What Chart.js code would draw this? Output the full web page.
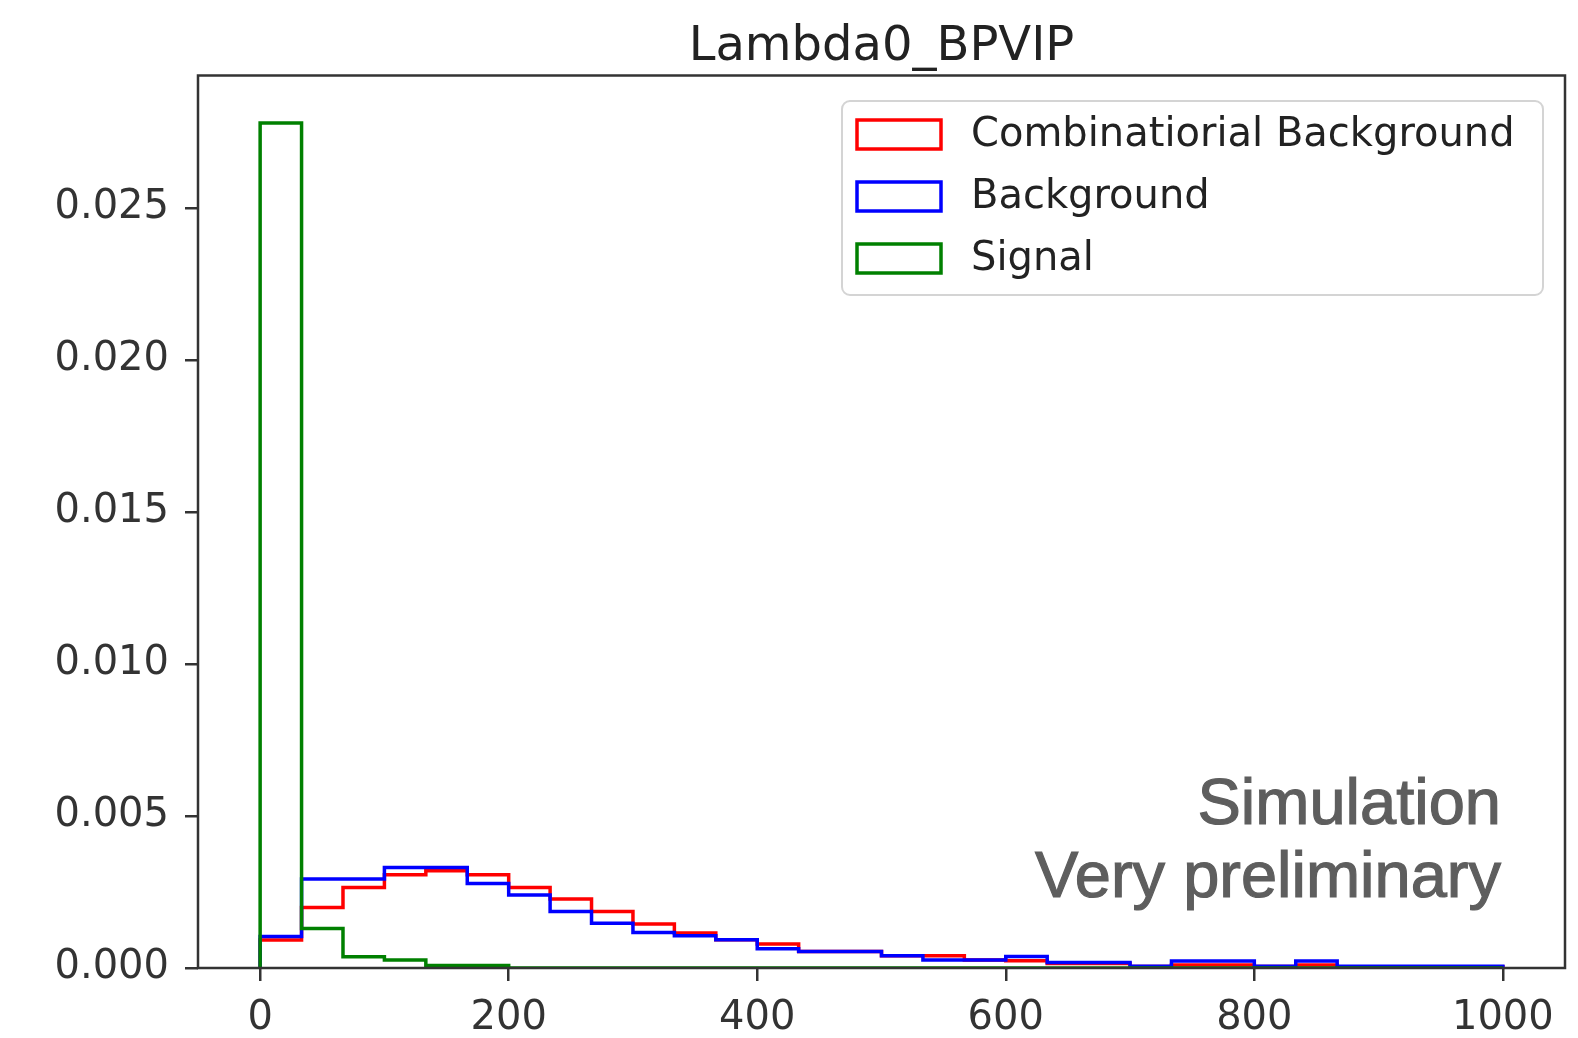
<!DOCTYPE html>
<html>
<head>
<meta charset="utf-8">
<title>Lambda0_BPVIP</title>
<script src="https://cdn.jsdelivr.net/npm/chart.js@4.4.1/dist/chart.umd.min.js"></script>
<style>
  body { margin: 0; background: #fff; }
  #chart { display: block; }
</style>
</head>
<body>
<canvas id="chart" width="1578" height="1038"></canvas>
<script>
// histogram range and binning (30 bins from 0 to 1000)
const histMin = 0;
const histMax = 1000;
const binCount = 30;

// normalised bin contents
const combBackground = [0.00092, 0.00199, 0.00265, 0.00307, 0.00320, 0.00307, 0.00265, 0.00227, 0.00186, 0.00145,
  0.00115, 0.00093, 0.00079, 0.00054, 0.00054, 0.00040, 0.00040, 0.00026, 0.00024, 0.00015,
  0.00015, 0.00005, 0.00010, 0.00010, 0.00005, 0.00010, 0.00004, 0.00004, 0.00004, 0.00004];
const background = [0.00104, 0.00293, 0.00293, 0.00331, 0.00331, 0.00278, 0.00240, 0.00186, 0.00147, 0.00117,
  0.00106, 0.00093, 0.00063, 0.00054, 0.00054, 0.00040, 0.00026, 0.00026, 0.00038, 0.00018,
  0.00018, 0.00006, 0.00023, 0.00023, 0.00006, 0.00023, 0.00006, 0.00006, 0.00006, 0.00006];
const signal = [0.0278, 0.00130, 0.00037, 0.00026, 0.00008, 0.00008, 0, 0, 0, 0,
  0, 0, 0, 0, 0, 0, 0, 0, 0, 0,
  0, 0, 0, 0, 0, 0, 0, 0, 0, 0];

const seriesLabels = ['Combinatiorial Background', 'Background', 'Signal'];
const seriesColors = ['#ff0000', '#0000ff', '#008000'];

const xTicks = [0, 200, 400, 600, 800, 1000];
const yTicks = [0, 0.005, 0.010, 0.015, 0.020, 0.025];

const titleText = 'Lambda0_BPVIP';
const noteLines = ['Simulation', 'Very preliminary'];

// outline of a step histogram: up at the first edge, down at the last
function stepOutline(values) {
  const w = (histMax - histMin) / binCount;
  const pts = [{ x: histMin, y: 0 }];
  values.forEach((v, i) => pts.push({ x: histMin + i * w, y: v }));
  pts.push({ x: histMax, y: values[values.length - 1] });
  pts.push({ x: histMax, y: 0 });
  return pts;
}

const frameColor = '#333333';

// legend box drawn inside the plot, like matplotlib's upper right legend
const boxLegend = {
  id: 'boxLegend',
  afterDraw(chart) {
    const ctx = chart.ctx;
    const left = 842, top = 101, width = 701, height = 194;
    ctx.save();
    ctx.beginPath();
    ctx.roundRect(left, top, width, height, 8);
    ctx.fillStyle = 'rgba(255,255,255,0.8)';
    ctx.fill();
    ctx.strokeStyle = '#d4d4d4';
    ctx.lineWidth = 2;
    ctx.stroke();
    ctx.font = '40px "DejaVu Sans"';
    ctx.textBaseline = 'middle';
    ctx.fillStyle = '#222';
    chart.data.datasets.forEach((ds, i) => {
      const cy = 134.5 + i * 62;
      ctx.strokeStyle = ds.borderColor;
      ctx.lineWidth = 3.5;
      ctx.strokeRect(857, cy - 14.5, 84, 29);
      ctx.fillText(ds.label, 971, cy + 1);
    });
    ctx.restore();
  }
};

// frame on all four sides, title over the plot, note in the lower right
const frameAndNote = {
  id: 'frameAndNote',
  afterDatasetsDraw(chart) {
    const { ctx, chartArea: a } = chart;
    ctx.save();
    ctx.strokeStyle = frameColor;
    ctx.lineWidth = 2.5;
    ctx.strokeRect(a.left, a.top, a.right - a.left, a.bottom - a.top);

    ctx.fillStyle = '#222';
    ctx.font = '48px "DejaVu Sans"';
    ctx.textAlign = 'center';
    ctx.textBaseline = 'alphabetic';
    ctx.fillText(titleText, (a.left + a.right) / 2, 60);

    ctx.fillStyle = '#5e5e5e';
    ctx.strokeStyle = '#5e5e5e';
    ctx.lineWidth = 1.2;
    ctx.font = '65px "Liberation Sans"';
    ctx.textAlign = 'right';
    noteLines.forEach((t, i) => {
      ctx.fillText(t, 1501, 824 + i * 73);
      ctx.strokeText(t, 1501, 824 + i * 73);
    });
    ctx.restore();
  }
};

new Chart(document.getElementById('chart'), {
  type: 'line',
  data: {
    datasets: [combBackground, background, signal].map((vals, i) => ({
      label: seriesLabels[i],
      data: stepOutline(vals),
      borderColor: seriesColors[i],
      borderWidth: 3.5,
      fill: false,
      stepped: 'before',
      pointRadius: 0,
      order: 3 - i
    }))
  },
  options: {
    responsive: false,
    animation: false,
    layout: { padding: { top: 75.5, right: 13 } },
    plugins: {
      legend: { display: false },
      tooltip: { enabled: false },
      title: { display: false }
    },
    scales: {
      x: {
        type: 'linear',
        min: -50,
        max: 1050,
        afterBuildTicks: s => { s.ticks = xTicks.map(v => ({ value: v })); },
        afterFit: s => { s.height = 70; },
        grid: { drawOnChartArea: false, drawTicks: true, tickLength: 13, color: frameColor, lineWidth: 2.5 },
        border: { display: false },
        ticks: {
          color: '#333',
          padding: 14,
          maxRotation: 0,
          font: { family: 'DejaVu Sans', size: 40 },
          callback: v => String(v)
        }
      },
      y: {
        min: 0,
        max: 0.02936,
        afterBuildTicks: s => { s.ticks = yTicks.map(v => ({ value: v })); },
        afterFit: s => { s.width = 198; },
        grid: { drawOnChartArea: false, drawTicks: true, tickLength: 13, color: frameColor, lineWidth: 2.5 },
        border: { display: false },
        ticks: {
          color: '#333',
          padding: 16,
          font: { family: 'DejaVu Sans', size: 40 },
          callback: v => v.toFixed(3)
        }
      }
    }
  },
  plugins: [frameAndNote, boxLegend]
});
</script>
</body>
</html>
